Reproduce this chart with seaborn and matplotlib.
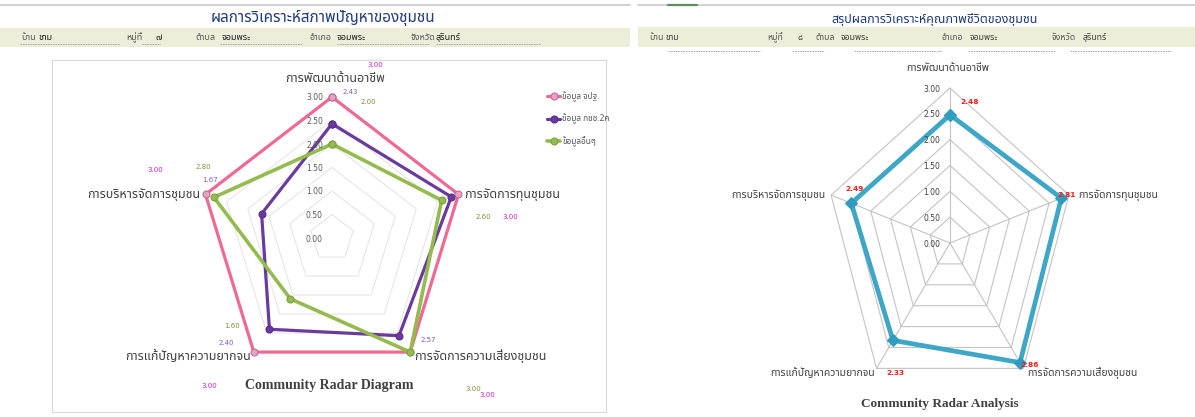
import numpy as np
import pandas as pd
import matplotlib
matplotlib.use("Agg")
import matplotlib.pyplot as plt
import seaborn as sns
from matplotlib import font_manager
from matplotlib.ft2font import FT2Font
from matplotlib.lines import Line2D
from matplotlib.patches import Rectangle

# ---- data ----
categories = ['การพัฒนาด้านอาชีพ', 'การจัดการทุนชุมชน', 'การจัดการความเสี่ยงชุมชน',
              'การแก้ปัญหาความยากจน', 'การบริหารจัดการชุมชน']
series_names = ['ข้อมูล จปฐ.', 'ข้อมูล กชช.2ค', 'ข้อมูลอื่นๆ']
jpt_values = [3.00, 3.00, 3.00, 3.00, 3.00]
kcc_values = [2.43, 2.83, 2.57, 2.40, 1.67]
other_values = [2.00, 2.60, 3.00, 1.60, 2.80]
quality_values = [2.48, 2.81, 2.86, 2.33, 2.49]
ring_ticks = [0.0, 0.5, 1.0, 1.5, 2.0, 2.5, 3.0]

left_title = 'ผลการวิเคราะห์สภาพปัญหาของชุมชน'
right_title = 'สรุปผลการวิเคราะห์คุณภาพชีวิตของชุมชน'
info_labels = ['บ้าน', 'หมู่ที่', 'ตำบล', 'อำเภอ', 'จังหวัด']
left_info_values = ['ชาม', '๗', 'จอมพระ', 'จอมพระ', 'สุรินทร์']
right_info_values = ['ชาม', '๘', 'จอมพระ', 'จอมพระ', 'สุรินทร์']
left_chart_title = 'Community Radar Diagram'
right_chart_title = 'Community Radar Analysis'

W, H = 1195, 417


def find_thai_family():
    """Pick an installed family that actually has Thai glyphs"""
    found = []
    for f in font_manager.fontManager.ttflist:
        try:
            cmap = FT2Font(f.fname).get_charmap()
        except Exception:
            continue
        if 0x0E01 in cmap and 0x0E48 in cmap:
            found.append(f.name)
    for pref in ['Noto Sans Thai', 'Noto Sans Thai UI', 'Tahoma', 'Garuda', 'Loma',
                 'Sarabun', 'Norasi', 'Kinnari', 'Waree', 'Umpush', 'Laksaman']:
        if pref in found:
            return pref
    return found[0] if found else None


sns.set_theme(style='white')
thai = find_thai_family()
families = ['DejaVu Sans']
if thai:
    families = [thai, 'DejaVu Sans']
plt.rcParams['font.family'] = families


def radar_xy(values):
    v = np.asarray(values, dtype=float)
    ang = np.arange(len(v)) * 2 * np.pi / len(v)
    x, y = v * np.sin(ang), v * np.cos(ang)
    return np.append(x, x[0]), np.append(y, y[0])


def radar_axes(fig, box, center, radius, rmax=3.0):
    # box / center / radius in pixels of the figure (y from the top)
    x0, y0, x1, y1 = box
    cx, cy = center
    rh, rv = radius
    ax = fig.add_axes([x0 / W, 1 - y1 / H, (x1 - x0) / W, (y1 - y0) / H])
    ax.set_xlim((x0 - cx) / rh * rmax, (x1 - cx) / rh * rmax)
    ax.set_ylim((cy - y1) / rv * rmax, (cy - y0) / rv * rmax)
    ax.set_xticks([])
    ax.set_yticks([])
    return ax


def draw_grid(ax, color, spokes, lw):
    for r in ring_ticks[1:]:
        gx, gy = radar_xy([r] * len(categories))
        ax.plot(gx, gy, color=color, lw=lw, zorder=1)
    if spokes:
        ox, oy = radar_xy([ring_ticks[-1]] * len(categories))
        for x, y in zip(ox[:-1], oy[:-1]):
            ax.plot([0, x], [0, y], color=color, lw=lw, zorder=1)


def ring_labels(ax, dx, color):
    for r in ring_ticks:
        ax.annotate(f'{r:.2f}', xy=(0, r), xytext=(dx, -1), textcoords='offset pixels',
                    ha='right', va='center', fontsize=5.5, color=color, family='DejaVu Sans')


def category_labels(ax, offsets, size):
    ox, oy = radar_xy([ring_ticks[-1]] * len(categories))
    for i, cat in enumerate(categories):
        dx, dy, ha = offsets[i]
        ax.annotate(cat, xy=(ox[i], oy[i]), xytext=(dx, -dy), textcoords='offset pixels',
                    ha=ha, va='center', fontsize=size, color='#404040')


fig = plt.figure(figsize=(W / 100, H / 100), dpi=100)
fig.patch.set_facecolor('white')

# ---- page furniture: rules, title bands, underlines ----
def px_line(x0, x1, y, **kw):
    fig.add_artist(Line2D([x0 / W, x1 / W], [1 - y / H, 1 - y / H], transform=fig.transFigure, **kw))

px_line(0, 630, 5, color='#c8c8c8', lw=1.2)
px_line(638, 1195, 5, color='#c8c8c8', lw=1.2)
px_line(668, 697, 5, color='#5b8f5b', lw=1.6)

fig.patches.append(Rectangle((0, 1 - 47 / H), 630 / W, 19 / H, transform=fig.transFigure,
                             facecolor='#eceed9', edgecolor='none', zorder=0))
fig.patches.append(Rectangle((638 / W, 1 - 47 / H), 557 / W, 20 / H, transform=fig.transFigure,
                             facecolor='#eceed9', edgecolor='none', zorder=0))

fig.text(323 / W, 1 - 18 / H, left_title, ha='center', va='center', fontsize=11,
         fontweight='bold', color='#1f3a7a')
fig.text(935 / W, 1 - 19 / H, right_title, ha='center', va='center', fontsize=9,
         fontweight='bold', color='#1f3a7a')

left_label_x = [21, 126, 195, 310, 411]
left_value_x = [38, 155, 222, 337, 436]
right_label_x = [649, 767, 816, 942, 1052]
right_value_x = [666, 797, 841, 970, 1083]
for lab, val, lx, vx in zip(info_labels, left_info_values, left_label_x, left_value_x):
    fig.text(lx / W, 1 - 38 / H, lab, ha='left', va='center', fontsize=6.5, color='#595959')
    fig.text(vx / W, 1 - 38 / H, val, ha='left', va='center', fontsize=6.5, color='#202020',
             fontweight='bold')
for lab, val, lx, vx in zip(info_labels, right_info_values, right_label_x, right_value_x):
    fig.text(lx / W, 1 - 38 / H, lab, ha='left', va='center', fontsize=6.3, color='#595959')
    fig.text(vx / W, 1 - 38 / H, val, ha='left', va='center', fontsize=6.3, color='#404040')

for x0, x1 in [(20, 120), (142, 160), (220, 302), (337, 429), (436, 540)]:
    px_line(x0, x1, 44, color='#a0a0a0', lw=0.6, ls=(0, (2, 1)))
for x0, x1 in [(668, 761), (792, 824), (854, 942), (968, 1055), (1070, 1171)]:
    px_line(x0, x1, 51, color='#a0a0a0', lw=0.6, ls=(0, (2, 1)))

# ---- left radar: three sources ----
axl = radar_axes(fig, (52, 60, 606, 412), (332, 238), (133, 141))
for s in axl.spines.values():
    s.set_color('#d9d9d9')
    s.set_linewidth(0.8)
draw_grid(axl, '#e6e6e6', spokes=False, lw=0.8)

left_series = [
    (series_names[0], jpt_values, '#ef6a92', '#e7a3c3', '#c26b9a', 2.3),
    (series_names[1], kcc_values, '#6a3aa0', '#6a3aa0', '#5a2d8e', 2.3),
    (series_names[2], other_values, '#93bb4e', '#93bb4e', '#7fa23f', 2.6),
]
for name, vals, col, mfc, mec, lw in left_series:
    x, y = radar_xy(vals)
    df = pd.DataFrame({'x': x, 'y': y})
    sns.lineplot(data=df, x='x', y='y', sort=False, estimator=None, ax=axl, color=col, lw=lw,
                 marker='o', markersize=5, markerfacecolor=mfc, markeredgecolor=mec,
                 markeredgewidth=0.8, label=name, zorder=3)
axl.set_xlabel('')
axl.set_ylabel('')

ring_labels(axl, -9, '#595959')
category_labels(axl, [(3, -18, 'center'), (6, 0, 'left'), (4, 4, 'left'),
                      (-3, 4, 'right'), (-5, 0, 'right')], 9)

# value labels, offsets in pixels from each category's outer vertex
vx, vy = radar_xy([ring_ticks[-1]] * len(categories))
value_label_spots = [
    (jpt_values, '#cc1fc4', [(0, 43, -32), (1, 52, 23), (2, 77, 43), (3, -45, 34), (4, -50, -24)]),
    (kcc_values, '#7d5cc6', [(0, 18, -5), (2, 18, -12), (3, -28, -9), (4, 5, -14)]),
    (other_values, '#8a8a3c', [(0, 36, 5), (1, 25, 23), (2, 63, 37), (3, -22, -26), (4, -2, -27)]),
]
for vals, col, spots in value_label_spots:
    for i, dx, dy in spots:
        axl.annotate(f'{vals[i]:.2f}', xy=(vx[i], vy[i]), xytext=(dx, -dy),
                     textcoords='offset pixels', ha='center', va='center', fontsize=5,
                     color=col, family='DejaVu Sans')

leg = axl.legend(loc='upper left', bbox_to_anchor=(0.888, 0.92), frameon=False, fontsize=6,
                 handlelength=1.5, handletextpad=0.3, labelspacing=1.4, borderaxespad=0)
for t in leg.get_texts():
    t.set_color('#595959')

axl.text(0.5, 0.075, left_chart_title, transform=axl.transAxes, ha='center', va='center',
         fontsize=10, fontweight='bold', color='#404040', family='Liberation Serif')

# ---- right radar: quality of life ----
axr = radar_axes(fig, (640, 58, 1195, 417), (950, 243), (125, 155))
for s in axr.spines.values():
    s.set_visible(False)
draw_grid(axr, '#c4c4c4', spokes=True, lw=0.8)

x, y = radar_xy(quality_values)
dfq = pd.DataFrame({'x': x, 'y': y})
sns.lineplot(data=dfq, x='x', y='y', sort=False, estimator=None, ax=axr, color='#3ea6c6', lw=3.4,
             marker='D', markersize=6.5, markerfacecolor='#2f9cc0', markeredgecolor='#2f9cc0',
             zorder=3, legend=False)
axr.set_xlabel('')
axr.set_ylabel('')

ring_labels(axr, -10, '#404040')
category_labels(axr, [(-2, -20, 'center'), (9, 0, 'left'), (4, 5, 'left'),
                      (-2, 5, 'right'), (-6, 0, 'right')], 7.5)

qx, qy = radar_xy(quality_values)
quality_label_offsets = [(20, -13), (5, -3), (10, 2), (2, 33), (3, -14)]
for i, (dx, dy) in enumerate(quality_label_offsets):
    axr.annotate(f'{quality_values[i]:.2f}', xy=(qx[i], qy[i]), xytext=(dx, -dy),
                 textcoords='offset pixels', ha='center', va='center', fontsize=5.3,
                 color='#ff1a1a', fontweight='bold', family='DejaVu Sans')

axr.text(0.54, 0.035, right_chart_title, transform=axr.transAxes, ha='center', va='center',
         fontsize=9.5, fontweight='bold', color='#404040', family='Liberation Serif')

plt.savefig('out.png', dpi=100)
